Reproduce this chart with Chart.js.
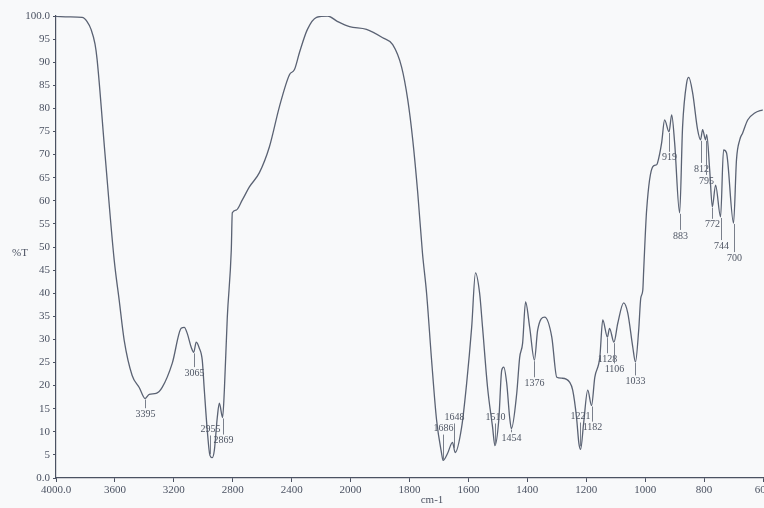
<!DOCTYPE html>
<html>
<head>
<meta charset="utf-8">
<script src="https://cdn.jsdelivr.net/npm/chart.js@4.4.1/dist/chart.umd.min.js"></script>
<style>
  html, body { margin: 0; padding: 0; background: #f8f9fa; overflow: hidden; }
</style>
</head>
<body>
<canvas id="ir-chart" width="764" height="508"></canvas>
<script>
// IR spectrum, wavenumber (cm-1) vs %T
const wavenumbers = [
  4000, 3912, 3823, 3789, 3762, 3735, 3721, 3667, 3605, 3571, 3537, 3483, 3435, 3395,
  3367, 3320, 3279, 3211, 3150, 3129, 3109, 3082, 3065, 3048, 3027, 3007, 2993, 2973,
  2955, 2939, 2925, 2905, 2891, 2869, 2857, 2837, 2810, 2803, 2776, 2735, 2687, 2619,
  2551, 2483, 2415, 2381, 2347, 2293, 2231, 2156, 2088, 2007, 1946, 1891, 1857, 1827,
  1806, 1789, 1772, 1756, 1742, 1725, 1708, 1691, 1686, 1671, 1654, 1645, 1623, 1606,
  1589, 1576, 1562, 1552, 1535, 1518, 1510, 1497, 1487, 1480, 1470, 1460, 1454, 1436,
  1426, 1416, 1406, 1392, 1376, 1365, 1341, 1317, 1300, 1283, 1256, 1246, 1233, 1225,
  1219, 1209, 1195, 1182, 1171, 1154, 1144, 1128, 1121, 1106, 1093, 1073, 1059, 1042,
  1033, 1022, 1015, 1008, 1005, 995, 974, 961, 958, 944, 934, 919, 910, 900,
  883, 873, 859, 852, 839, 822, 812, 805, 795, 791, 781, 772, 761, 744,
  734, 724, 700, 690, 679, 669, 652, 628, 601
];
const transmittance = [
  99.9, 99.8, 99.7, 98.8, 97.1, 93.9, 90.6, 70.0, 47.2, 38.5, 29.8, 22.2, 19.6, 17.2,
  18.1, 18.3, 19.6, 24.8, 32.4, 32.6, 31.3, 28.3, 27.2, 29.4, 28.1, 25.5, 19.0, 10.3,
  4.9, 4.4, 6.0, 13.1, 16.2, 13.1, 19.0, 34.8, 49.3, 57.4, 58.0, 60.2, 63.0, 66.1,
  71.7, 80.4, 87.3, 88.4, 92.1, 97.1, 99.7, 100.0, 98.8, 97.7, 97.1, 95.3, 93.8, 89.0,
  81.9, 73.2, 61.7, 48.7, 40.0, 25.5, 12.5, 5.3, 3.8, 5.3, 7.7, 5.5, 11.0, 20.5,
  32.6, 44.4, 40.0, 32.6, 19.6, 11.0, 7.0, 12.5, 23.3, 24.0, 20.5, 13.1, 10.7, 18.3,
  26.1, 29.2, 38.1, 32.6, 25.5, 32.0, 34.8, 30.5, 21.8, 21.6, 20.7, 19.0, 13.1, 7.5,
  6.2, 11.8, 19.0, 15.7, 21.8, 26.1, 34.2, 30.5, 32.4, 29.4, 33.5, 37.9, 35.7, 28.3,
  25.1, 32.0, 38.9, 40.7, 45.0, 58.0, 67.4, 67.8, 68.2, 72.6, 77.5, 74.9, 78.6, 72.6,
  57.4, 76.0, 85.6, 86.7, 83.4, 75.4, 73.2, 75.4, 73.2, 74.3, 66.7, 58.7, 63.4, 56.5,
  71.0, 70.4, 55.2, 68.9, 73.2, 74.7, 77.5, 79.0, 79.7
];

const xTickValues = [4000, 3600, 3200, 2800, 2400, 2000, 1800, 1600, 1400, 1200, 1000, 800, 600];
const yTickValues = [0, 5, 10, 15, 20, 25, 30, 35, 40, 45, 50, 55, 60, 65, 70, 75, 80, 85, 90, 95, 100];

// annotated peaks and the %T level where each label sits
const peakWavenumbers = [3395, 3065, 2955, 2869, 1686, 1648, 1510, 1454, 1376, 1221, 1182,
  1128, 1106, 1033, 919, 883, 812, 795, 772, 744, 700];
const peakLabelT = [13.8, 22.7, 10.5, 8.1, 10.7, 13.1, 13.1, 8.6, 20.5, 13.3, 10.9,
  25.7, 23.5, 20.9, 69.3, 52.4, 66.9, 64.3, 54.8, 50.2, 47.6];

// the axis is compressed 2x above 2000 cm-1
function toAxis(w) {
  return w >= 2000 ? (4000 - w) / 2 : 1000 + (2000 - w);
}
function fromAxis(u) {
  return u <= 1000 ? 4000 - u * 2 : 2000 - (u - 1000);
}
function valueAt(w) {
  for (let i = 0; i < wavenumbers.length - 1; i++) {
    const a = wavenumbers[i], b = wavenumbers[i + 1];
    if (w <= a && w >= b) {
      return transmittance[i] + (transmittance[i + 1] - transmittance[i]) * (a - w) / (a - b);
    }
  }
  return transmittance[transmittance.length - 1];
}

const serif = "'Liberation Serif', 'Times New Roman', serif";
const axisColor = "#4b5262";

const peakLabels = {
  id: "peakLabels",
  afterDatasetsDraw(chart) {
    const { ctx, scales: { x, y } } = chart;
    ctx.save();
    ctx.font = "10px " + serif;
    ctx.fillStyle = "#4f5664";
    ctx.strokeStyle = "#7a808c";
    ctx.lineWidth = 1;
    ctx.textAlign = "center";
    ctx.textBaseline = "middle";
    peakWavenumbers.forEach((w, i) => {
      const px = Math.round(x.getPixelForValue(toAxis(w))) + 0.5;
      const yc = y.getPixelForValue(valueAt(w));
      const yl = y.getPixelForValue(peakLabelT[i]);
      ctx.beginPath();
      if (yl > yc) {
        ctx.moveTo(px, yc + 1);
        ctx.lineTo(px, yl - 6);
      } else {
        ctx.moveTo(px, yl + 6);
        ctx.lineTo(px, yc - 1);
      }
      ctx.stroke();
      ctx.fillText(String(w), px, yl);
    });
    ctx.restore();
  },
  afterDraw(chart) {
    const ctx = chart.ctx;
    ctx.save();
    ctx.font = "11px " + serif;
    ctx.fillStyle = axisColor;
    ctx.textAlign = "center";
    ctx.textBaseline = "middle";
    ctx.fillText("%T", 20, 253);
    ctx.fillText("cm-1", 432, 500);
    ctx.restore();
  }
};

const ctx = document.getElementById("ir-chart").getContext("2d");
new Chart(ctx, {
  type: "line",
  data: {
    datasets: [
      {
        label: "%T",
        data: wavenumbers.map((w, i) => ({ x: toAxis(w), y: transmittance[i] })),
        borderColor: "#5a6273",
        borderWidth: 1.3,
        pointRadius: 0,
        fill: false,
        cubicInterpolationMode: "monotone",
      },
    ],
  },
  options: {
    animation: { duration: 0 },
    responsive: false,
    devicePixelRatio: 1,
    layout: { padding: { left: 0, right: 1, top: 16, bottom: 0 } },
    plugins: {
      legend: { display: false },
      tooltip: { enabled: false },
    },
    scales: {
      x: {
        type: "linear",
        min: 0,
        max: toAxis(600),
        afterBuildTicks: (scale) => {
          scale.ticks = xTickValues.map((w) => ({ value: toAxis(w) }));
        },
        afterFit: (scale) => {
          scale.height = 30;
          scale.paddingLeft = 0;
          scale.paddingRight = 0;
        },
        ticks: {
          autoSkip: false,
          maxRotation: 0,
          padding: 2,
          color: axisColor,
          font: { family: serif, size: 11 },
          callback: (value) => {
            const w = Math.round(fromAxis(value));
            return w === 4000 ? "4000.0" : String(w);
          },
        },
        grid: { drawOnChartArea: false, drawTicks: true, tickLength: 4, color: axisColor },
        border: { display: true, color: axisColor, width: 1.2 },
      },
      y: {
        min: 0,
        max: 100,
        afterBuildTicks: (scale) => {
          scale.ticks = yTickValues.map((v) => ({ value: v }));
        },
        afterFit: (scale) => {
          scale.width = 56;
        },
        ticks: {
          padding: 3,
          color: axisColor,
          font: { family: serif, size: 11 },
          callback: (value) => (value === 100 ? "100.0" : value === 0 ? "0.0" : String(value)),
        },
        grid: { drawOnChartArea: false, drawTicks: true, tickLength: 3, color: axisColor },
        border: { display: true, color: axisColor, width: 1.2 },
      },
    },
  },
  plugins: [peakLabels],
});
</script>
</body>
</html>
